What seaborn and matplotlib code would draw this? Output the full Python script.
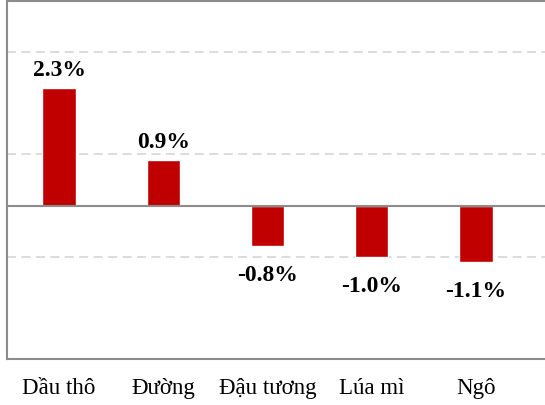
import matplotlib
matplotlib.use("Agg")
import matplotlib.pyplot as plt
import pandas as pd
import seaborn as sns

categories = ["Dầu thô", "Đường", "Đậu tương", "Lúa mì", "Ngô"]
changes = [2.3, 0.9, -0.8, -1.0, -1.1]
labels = ["2.3%", "0.9%", "-0.8%", "-1.0%", "-1.1%"]


def main():
    sns.set_style("white")
    plt.rcParams["font.family"] = ["Liberation Serif", "DejaVu Serif"]
    plt.rcParams["text.color"] = "black"
    plt.rcParams["xtick.color"] = "black"

    df = pd.DataFrame({"item": categories, "change": changes})

    fig = plt.figure(figsize=(5.45, 4.06), dpi=100)
    ax = fig.add_axes([7 / 545, 1 - 360 / 406, 1 - 7 / 545, 358 / 406])

    sns.barplot(data=df, x="item", y="change", color="#C00000",
                width=0.32, saturation=1, ax=ax)

    ax.set_ylim(-3, 4)
    ax.set_xlim(-0.5, 4.663)
    ax.set_yticks([-3, -1, 1, 3])
    ax.set_yticklabels([])
    ax.tick_params(axis="both", length=0)
    ax.yaxis.grid(True, color="#d9d9d9", linestyle=(0, (5, 3)),
                  linewidth=1.3)
    ax.set_axisbelow(True)
    ax.axhline(0, color="#8c8c8c", linewidth=1.5, zorder=1)

    for side in ["left", "bottom", "top"]:
        ax.spines[side].set_color("#8c8c8c")
        ax.spines[side].set_linewidth(1.5)
    ax.spines["right"].set_visible(False)

    ax.set_xlabel("")
    ax.set_ylabel("")
    ax.set_xticks(range(len(categories)))
    ax.set_xticklabels(categories, fontsize=16.5, color="black")
    ax.tick_params(axis="x", pad=13)

    for i, (v, lab) in enumerate(zip(changes, labels)):
        if v >= 0:
            ax.annotate(lab, (i, v), xytext=(0, 8),
                        textcoords="offset pixels", ha="center",
                        va="bottom", fontsize=17, fontweight="bold",
                        color="black")
        else:
            ax.annotate(lab, (i, v), xytext=(0, -18),
                        textcoords="offset pixels", ha="center",
                        va="top", fontsize=17, fontweight="bold",
                        color="black")

    fig.savefig("out.png", dpi=100)


if __name__ == "__main__":
    main()
